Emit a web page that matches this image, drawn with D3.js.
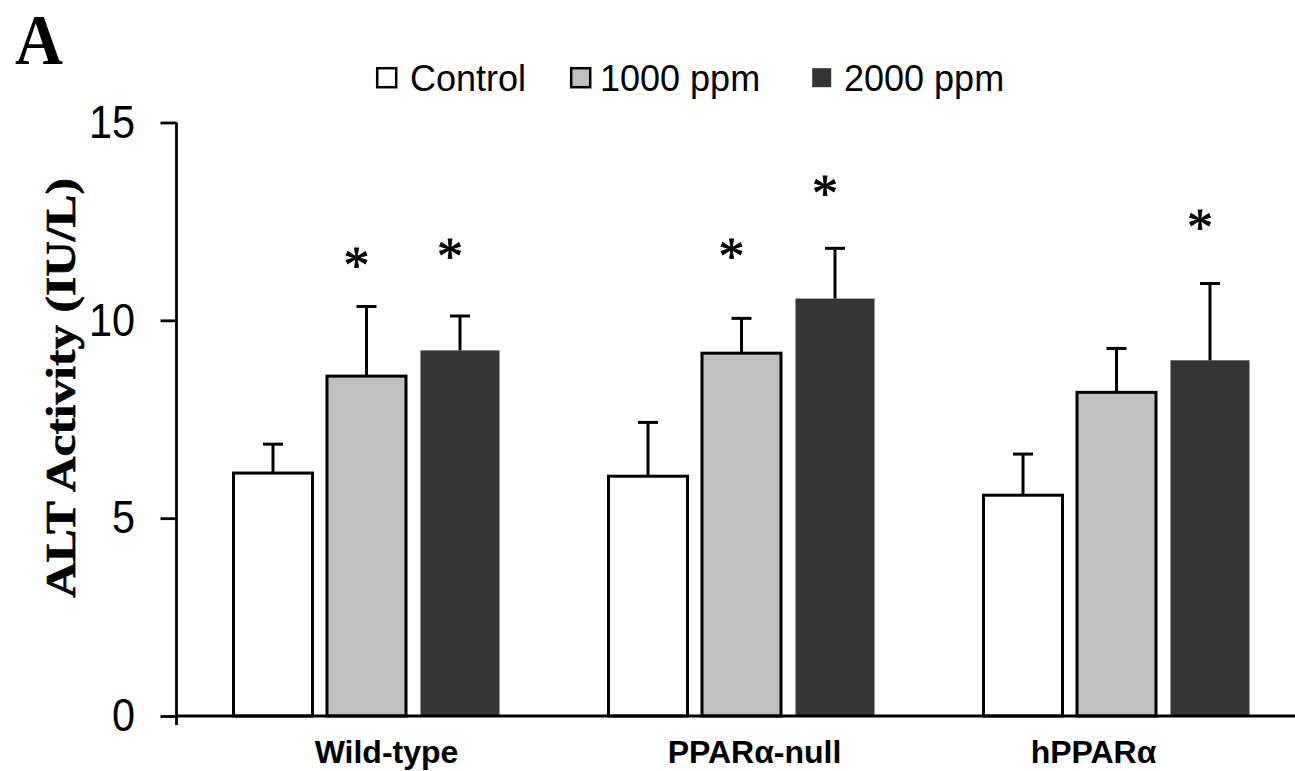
<!DOCTYPE html>
<html>
<head>
<meta charset="utf-8">
<script src="https://cdn.jsdelivr.net/npm/d3@7/dist/d3.min.js"></script>
<style>
  html, body { margin: 0; padding: 0; background: #fff; }
  svg { display: block; }
</style>
</head>
<body>
<svg id="chart" width="1295" height="771"></svg>
<script>
// ALT activity by genotype and dose
const categories = ["Wild-type", "PPARα-null", "hPPARα"];
const series = ["Control", "1000 ppm", "2000 ppm"];
const controlMean = [6.14, 6.06, 5.58];
const ppm1000Mean = [8.59, 9.17, 8.18];
const ppm2000Mean = [9.24, 10.55, 8.99];
const controlErr = [0.73, 1.36, 1.04];
const ppm1000Err = [1.76, 0.88, 1.11];
const ppm2000Err = [0.87, 1.27, 1.94];
// significance marks: [category index, series index, height on the value axis]
const starMarks = [[0, 1, 11.54], [0, 2, 11.77], [1, 1, 11.79], [1, 2, 13.36], [2, 2, 12.5]];
const yTicks = [0, 5, 10, 15];

const means = [controlMean, ppm1000Mean, ppm2000Mean];
const errs = [controlErr, ppm1000Err, ppm2000Err];
const fills = ["#ffffff", "#c0c0c0", "#353535"];
const strokes = ["#000", "#000", "none"];

const svg = d3.select("#chart");
const sans = "'Liberation Sans', Arial, sans-serif";
const serif = "'Liberation Serif', 'Times New Roman', serif";

const y = d3.scaleLinear().domain([0, 15]).range([716, 122.5]);
const x0 = d3.scaleBand().domain(categories).range([179, 1304]).paddingInner(0).paddingOuter(0);
const x1 = d3.scaleBand().domain(series).range([0, 266]).paddingInner(0.155).paddingOuter(0);
const center = c => x0(c) + x0.bandwidth() / 2;
const barX = (c, s) => center(c) - 133 + x1(s);

// bars
const rows = [];
series.forEach((s, si) => categories.forEach((c, ci) => {
  rows.push({ c, s, si, v: means[si][ci], e: errs[si][ci] });
}));

const gBars = svg.append("g");
gBars.selectAll("rect").data(rows).join("rect")
  .attr("x", d => barX(d.c, d.s))
  .attr("y", d => y(d.v))
  .attr("width", x1.bandwidth())
  .attr("height", d => y(0) - y(d.v))
  .attr("fill", d => fills[d.si])
  .attr("stroke", d => strokes[d.si])
  .attr("stroke-width", 3);

// upper error bars
const gErr = svg.append("g").attr("stroke", "#000").attr("stroke-width", 3);
rows.forEach(d => {
  const cx = barX(d.c, d.s) + x1.bandwidth() / 2;
  gErr.append("line").attr("x1", cx).attr("x2", cx).attr("y1", y(d.v)).attr("y2", y(d.v + d.e));
  gErr.append("line").attr("x1", cx - 10).attr("x2", cx + 10).attr("y1", y(d.v + d.e)).attr("y2", y(d.v + d.e));
});

// asterisks
svg.append("g").selectAll("text").data(starMarks).join("text")
  .attr("x", d => barX(categories[d[0]], series[d[1]]) + x1.bandwidth() / 2 - 10)
  .attr("y", d => y(d[2]) + 24)
  .attr("text-anchor", "middle")
  .attr("font-family", serif)
  .attr("font-size", 52)
  .attr("fill", "#000")
  .attr("stroke", "#000")
  .attr("stroke-width", 0.8)
  .text("*");

// y axis
const yAxis = svg.append("g")
  .attr("transform", "translate(176.5,0)")
  .call(d3.axisLeft(y).tickValues(yTicks).tickSize(16).tickSizeOuter(0).tickPadding(30).tickFormat(d3.format("d")));
yAxis.select(".domain").attr("stroke", "#000").attr("stroke-width", 2.8).attr("d", `M0,${y(15)}V${y(0) + 9}`);
yAxis.selectAll(".tick line").attr("stroke", "#000").attr("stroke-width", 2.8);
yAxis.selectAll(".tick text")
  .attr("font-family", sans)
  .attr("font-size", 46)
  .attr("fill", "#000")
  .attr("transform", "scale(0.9,1)");

// x axis baseline
svg.append("line")
  .attr("x1", 176.5).attr("x2", 1295)
  .attr("y1", y(0)).attr("y2", y(0))
  .attr("stroke", "#000").attr("stroke-width", 2.8);

// category labels (nudged individually under each group)
const labelNudge = [20, 13, -23];
svg.append("g").selectAll("text").data(categories).join("text")
  .attr("x", (c, i) => center(c) + labelNudge[i])
  .attr("y", 763)
  .attr("text-anchor", "middle")
  .attr("font-family", sans)
  .attr("font-weight", "bold")
  .attr("font-size", 32)
  .attr("fill", "#000")
  .text(c => c);

// y axis title
svg.append("text")
  .attr("transform", "translate(75,388) rotate(-90)")
  .attr("text-anchor", "middle")
  .attr("font-family", serif)
  .attr("font-weight", "bold")
  .attr("font-size", 42)
  .attr("textLength", 420)
  .attr("lengthAdjust", "spacingAndGlyphs")
  .attr("fill", "#000")
  .attr("stroke", "#000")
  .attr("stroke-width", 0.6)
  .text("ALT Activity (IU/L)");

// panel letter
svg.append("text")
  .attr("x", 15).attr("y", 64)
  .attr("font-family", serif)
  .attr("font-weight", "bold")
  .attr("font-size", 71)
  .attr("textLength", 48)
  .attr("lengthAdjust", "spacingAndGlyphs")
  .attr("fill", "#000")
  .text("A");

// legend
const legendX = [376, 570, 811];
const legend = svg.append("g").selectAll("g").data(series).join("g")
  .attr("transform", (s, i) => `translate(${legendX[i]},67)`);
legend.append("rect")
  .attr("x", 1.2).attr("y", 1.2)
  .attr("width", 19).attr("height", 19)
  .attr("fill", (s, i) => fills[i])
  .attr("stroke", (s, i) => strokes[i])
  .attr("stroke-width", 2.5);
legend.append("text")
  .attr("x", (s, i) => [34, 30, 33][i])
  .attr("y", 24)
  .attr("font-family", sans)
  .attr("font-size", 36)
  .attr("fill", "#000")
  .text(s => s);
</script>
</body>
</html>
